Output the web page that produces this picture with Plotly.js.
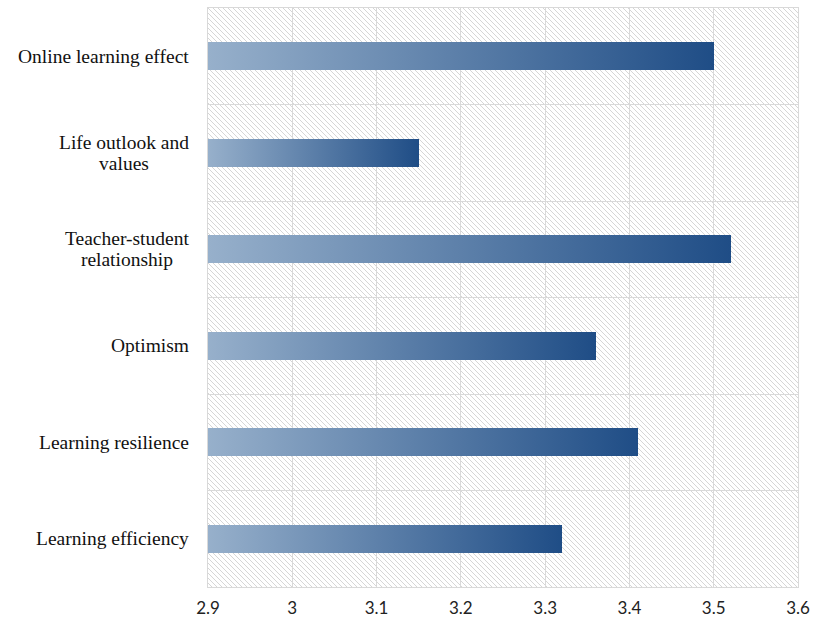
<!DOCTYPE html>
<html>
<head>
<meta charset="utf-8">
<script src="https://cdn.plot.ly/plotly-3.0.1.min.js"></script>
<style>
  html, body { margin: 0; padding: 0; background: #ffffff; }
  #chart { width: 813px; height: 625px; }
</style>
</head>
<body>
<div id="chart"></div>
<script>
// Dimension labels, top to bottom
const categories = [
  "Online learning effect",
  "Life outlook and<br>values",
  "Teacher-student<br>relationship",
  "Optimism",
  "Learning resilience",
  "Learning efficiency"
];
// Mean scores per dimension
const scores = [3.50, 3.15, 3.52, 3.36, 3.41, 3.32];
// Axis ticks
const tickValues = [2.9, 3.0, 3.1, 3.2, 3.3, 3.4, 3.5, 3.6];
const tickLabels = ["2.9", "3", "3.1", "3.2", "3.3", "3.4", "3.5", "3.6"];
const axisMin = 2.9, axisMax = 3.6;

const trace = {
  type: "bar",
  orientation: "h",
  y: categories,
  base: axisMin,
  x: scores.map(v => v - axisMin),
  width: 0.29,
  marker: { color: "#5b7fa8", line: { width: 0 } },
  hoverinfo: "skip"
};

// Category names drawn as centred, right-anchored text blocks left of the plot.
// The base size sets a compact line pitch; the span sets the glyph size.
const labels = categories.map(c => ({
  xref: "paper", yref: "y",
  x: 0, y: c,
  xanchor: "right", yanchor: "middle",
  xshift: -17,
  align: "center",
  text: c.split("<br>").map(s => '<span style="font-size:19.5px">' + s + '</span>').join("<br>"),
  showarrow: false,
  font: { family: "Liberation Serif, Times New Roman, serif", size: 16, color: "#111111" }
}));

const layout = {
  width: 813, height: 625,
  margin: { l: 208, r: 15, t: 8, b: 38 },
  paper_bgcolor: "#ffffff",
  plot_bgcolor: "rgba(0,0,0,0)",
  showlegend: false,
  bargap: 0,
  xaxis: {
    range: [axisMin, axisMax],
    tickvals: tickValues,
    ticktext: tickLabels,
    showgrid: true, gridcolor: "#d9d9d9", gridwidth: 1,
    zeroline: false,
    showline: true, mirror: true, linecolor: "#d9d9d9", linewidth: 1,
    ticks: "", ticklen: 0,
    ticklabelstandoff: 6,
    tickfont: { family: "Lato, Open Sans, sans-serif", size: 17, color: "#222222" },
    fixedrange: true
  },
  yaxis: {
    type: "category",
    autorange: "reversed",
    tickson: "boundaries",
    showgrid: true, gridcolor: "#d9d9d9", gridwidth: 1,
    showline: true, mirror: true, linecolor: "#d9d9d9", linewidth: 1,
    showticklabels: false,
    ticks: "",
    fixedrange: true
  },
  annotations: labels
};

Plotly.newPlot("chart", [trace], layout, { staticPlot: true, displayModeBar: false }).then(gd => {
  const ns = "http://www.w3.org/2000/svg";
  const svg = gd.querySelector("svg.main-svg");
  let defs = svg.querySelector("defs");
  if (!defs) { defs = document.createElementNS(ns, "defs"); svg.insertBefore(defs, svg.firstChild); }

  // Diagonal hatch for the plotting area
  const pat = document.createElementNS(ns, "pattern");
  pat.setAttribute("id", "bgHatch");
  pat.setAttribute("patternUnits", "userSpaceOnUse");
  pat.setAttribute("width", "5");
  pat.setAttribute("height", "5");
  pat.innerHTML =
    '<rect width="5" height="5" fill="#ffffff"/>' +
    '<path d="M-1,-1 L6,6 M-1,4 L1,6 M4,-1 L6,1" stroke="#d6d6d6" stroke-width="1"/>';
  defs.appendChild(pat);

  // Light-to-dark blue fill running along each bar
  const grad = document.createElementNS(ns, "linearGradient");
  grad.setAttribute("id", "barFill");
  grad.setAttribute("x1", "0"); grad.setAttribute("y1", "0");
  grad.setAttribute("x2", "1"); grad.setAttribute("y2", "0");
  grad.innerHTML =
    '<stop offset="0" stop-color="#97b0cb"/>' +
    '<stop offset="1" stop-color="#1f4d86"/>';
  defs.appendChild(grad);

  // Hatched panel placed beneath the grid, sized from the plot area
  const sz = gd._fullLayout._size;
  const panel = document.createElementNS(ns, "rect");
  panel.setAttribute("x", sz.l);
  panel.setAttribute("y", sz.t);
  panel.setAttribute("width", sz.w);
  panel.setAttribute("height", sz.h);
  panel.setAttribute("fill", "url(#bgHatch)");
  const cart = svg.querySelector("g.cartesianlayer");
  cart.parentNode.insertBefore(panel, cart);

  gd.querySelectorAll(".trace.bars path").forEach(p => { p.style.fill = "url(#barFill)"; });
});
</script>
</body>
</html>
